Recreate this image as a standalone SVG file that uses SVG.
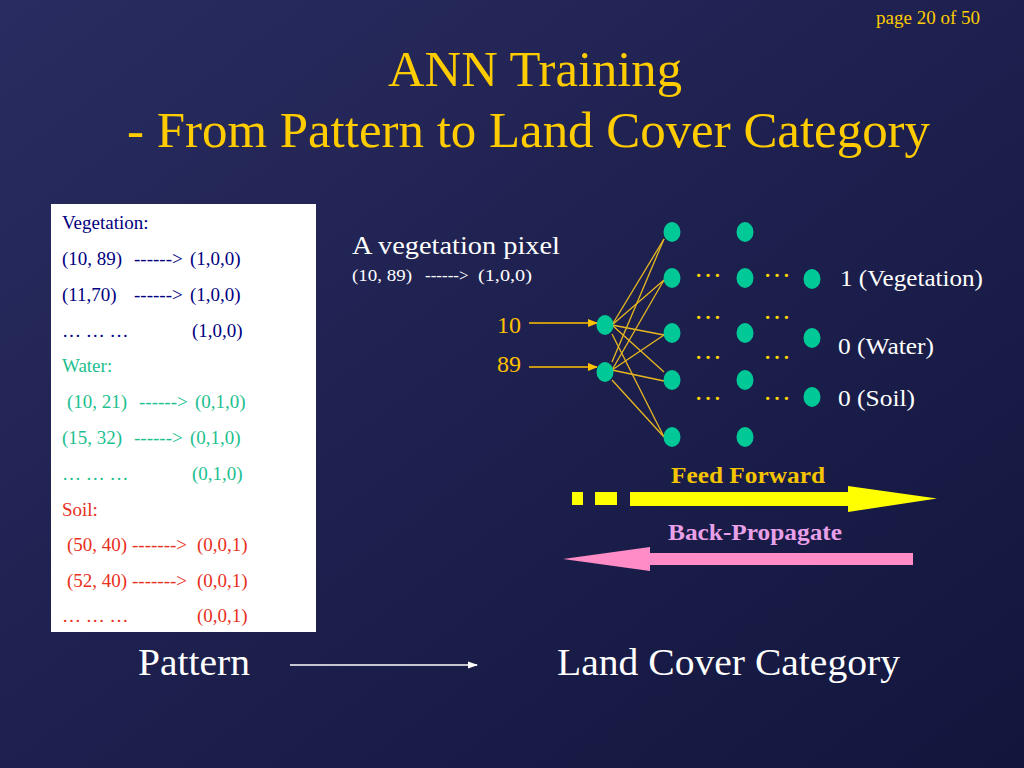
<svg xmlns="http://www.w3.org/2000/svg" width="1024" height="768" viewBox="0 0 1024 768">
<defs>
<linearGradient id="bg" x1="0" y1="0" x2="1" y2="1">
<stop offset="0" stop-color="#292C60"/>
<stop offset="1" stop-color="#12153C"/>
</linearGradient>
<marker id="ah" markerWidth="10" markerHeight="8" refX="9" refY="4" orient="auto" markerUnits="userSpaceOnUse">
<path d="M0,0 L10,4 L0,8 Z" fill="#FFC000"/>
</marker>
<marker id="ahw" markerWidth="10" markerHeight="8" refX="9" refY="4" orient="auto" markerUnits="userSpaceOnUse">
<path d="M0,0.5 L10,4 L0,7.5 Z" fill="#FFFFFF"/>
</marker>
</defs>
<style>
text{font-family:"Liberation Serif","Times New Roman",serif}
.title{fill:#FFCC00;font-size:50px}
.box{font-size:19px}
.veg{fill:#000080}
.wat{fill:#1CBF8E}
.soil{fill:#E8301C}
.node{fill:#00C896}
.edge{stroke:#E8B820;stroke-width:1.3}
.dots{fill:#FFD700;font-size:28px}
.wt{fill:#FFFFFF}
.out{fill:#FFFFFF;font-size:23px}
</style>
<rect width="1024" height="768" fill="url(#bg)"/>

<text x="980" y="24" text-anchor="end" style="fill:#FFCC00;font-size:19px">page 20 of 50</text>
<text class="title" x="388" y="86" textLength="294" lengthAdjust="spacingAndGlyphs">ANN Training</text>
<text class="title" x="127" y="147" textLength="803" lengthAdjust="spacingAndGlyphs">- From Pattern to Land Cover Category</text>

<g id="table">
<rect x="51" y="204" width="265" height="428" fill="#FFFFFF"/>
<g class="box">
<text class="veg" x="62" y="229">Vegetation:</text>
<text class="veg" y="265"><tspan x="62">(10, 89)</tspan><tspan x="134">------&gt;</tspan><tspan x="190">(1,0,0)</tspan></text>
<text class="veg" y="301"><tspan x="62">(11,70)</tspan><tspan x="134">------&gt;</tspan><tspan x="190">(1,0,0)</tspan></text>
<text class="veg" y="337"><tspan x="62">… … …</tspan><tspan x="192">(1,0,0)</tspan></text>
<text class="wat" x="62" y="372">Water:</text>
<text class="wat" y="408"><tspan x="67">(10, 21)</tspan><tspan x="139">------&gt;</tspan><tspan x="195">(0,1,0)</tspan></text>
<text class="wat" y="444"><tspan x="62">(15, 32)</tspan><tspan x="134">------&gt;</tspan><tspan x="190">(0,1,0)</tspan></text>
<text class="wat" y="480"><tspan x="62">… … …</tspan><tspan x="192">(0,1,0)</tspan></text>
<text class="soil" x="62" y="516">Soil:</text>
<text class="soil" y="551"><tspan x="67">(50, 40)</tspan><tspan x="132">-------&gt;</tspan><tspan x="197">(0,0,1)</tspan></text>
<text class="soil" y="587"><tspan x="67">(52, 40)</tspan><tspan x="132">-------&gt;</tspan><tspan x="197">(0,0,1)</tspan></text>
<text class="soil" y="622"><tspan x="62">… … …</tspan><tspan x="197">(0,0,1)</tspan></text>
</g>
</g>

<g id="pixel-label">
<text class="wt" x="352" y="254" style="font-size:26px" textLength="208" lengthAdjust="spacingAndGlyphs">A vegetation pixel</text>
<text class="wt" y="281" style="font-size:17px"><tspan x="352" textLength="60" lengthAdjust="spacingAndGlyphs">(10, 89)</tspan><tspan x="425">------&gt;</tspan><tspan x="478" textLength="54" lengthAdjust="spacingAndGlyphs">(1,0,0)</tspan></text>
</g>

<g id="inputs">
<text x="497" y="333" style="fill:#FFC000;font-size:24px">10</text>
<text x="497" y="372" style="fill:#FFC000;font-size:24px">89</text>
</g>

<g id="connectors">
<line x1="529" y1="323" x2="597" y2="323" stroke="#FFC000" stroke-width="1.6" marker-end="url(#ah)"/>
<line x1="529" y1="367" x2="597" y2="367" stroke="#FFC000" stroke-width="1.6" marker-end="url(#ah)"/>
<g class="edge">
<line x1="612" y1="325" x2="664" y2="239"/>
<line x1="612" y1="325" x2="664" y2="280"/>
<line x1="612" y1="325" x2="664" y2="335"/>
<line x1="612" y1="325" x2="664" y2="372"/>
<line x1="612" y1="334" x2="664" y2="437"/>
<line x1="612" y1="362" x2="664" y2="239"/>
<line x1="612" y1="370" x2="664" y2="280"/>
<line x1="612" y1="370" x2="664" y2="335"/>
<line x1="612" y1="370" x2="664" y2="381"/>
<line x1="612" y1="380" x2="664" y2="437"/>
</g>
<line x1="290" y1="665" x2="477" y2="665" stroke="#FFFFFF" stroke-width="1.3" marker-end="url(#ahw)"/>
</g>

<g id="input-layer">
<ellipse class="node" cx="605" cy="325" rx="8.5" ry="10"/>
<ellipse class="node" cx="605" cy="372" rx="8.5" ry="10"/>
</g>
<g id="hidden-layer-1">
<ellipse class="node" cx="672" cy="232" rx="8.5" ry="10"/>
<ellipse class="node" cx="672" cy="278" rx="8.5" ry="10"/>
<ellipse class="node" cx="672" cy="333" rx="8.5" ry="10"/>
<ellipse class="node" cx="672" cy="380" rx="8.5" ry="10"/>
<ellipse class="node" cx="672" cy="437" rx="8.5" ry="10"/>
</g>
<g id="hidden-layer-2">
<ellipse class="node" cx="745" cy="232" rx="8.5" ry="10"/>
<ellipse class="node" cx="745" cy="278" rx="8.5" ry="10"/>
<ellipse class="node" cx="745" cy="333" rx="8.5" ry="10"/>
<ellipse class="node" cx="745" cy="380" rx="8.5" ry="10"/>
<ellipse class="node" cx="745" cy="437" rx="8.5" ry="10"/>
</g>
<g id="output-layer">
<ellipse class="node" cx="812" cy="279" rx="8.5" ry="10"/>
<ellipse class="node" cx="812" cy="338" rx="8.5" ry="10"/>
<ellipse class="node" cx="812" cy="397" rx="8.5" ry="10"/>
</g>
<g id="ellipses">
<text class="dots" x="694" y="277">…</text>
<text class="dots" x="763" y="277">…</text>
<text class="dots" x="694" y="319">…</text>
<text class="dots" x="763" y="319">…</text>
<text class="dots" x="694" y="359">…</text>
<text class="dots" x="763" y="359">…</text>
<text class="dots" x="694" y="400">…</text>
<text class="dots" x="763" y="400">…</text>
</g>
<g id="output-labels">
<text class="out" x="840" y="286" textLength="143" lengthAdjust="spacingAndGlyphs">1 (Vegetation)</text>
<text class="out" x="838" y="354" textLength="96" lengthAdjust="spacingAndGlyphs">0 (Water)</text>
<text class="out" x="838" y="406" textLength="77" lengthAdjust="spacingAndGlyphs">0 (Soil)</text>
</g>

<g id="feed-forward">
<text x="671" y="483" style="fill:#F5C400;font-size:23px;font-weight:bold" textLength="154" lengthAdjust="spacingAndGlyphs">Feed Forward</text>
<rect x="572" y="492" width="11" height="13" fill="#FFFF00"/>
<rect x="595" y="492" width="22" height="13" fill="#FFFF00"/>
<path d="M630,492 L848,492 L848,486 L937,498.5 L848,512 L848,506 L630,506 Z" fill="#FFFF00"/>
</g>
<g id="back-propagate">
<text x="668" y="540" style="fill:#E8A0E8;font-size:23px;font-weight:bold" textLength="174" lengthAdjust="spacingAndGlyphs">Back-Propagate</text>
<path d="M913,553 L650,553 L650,547 L563,559 L650,571 L650,565 L913,565 Z" fill="#FF8CC6"/>
</g>

<g id="bottom">
<text class="wt" x="138" y="675" style="font-size:38px" textLength="112" lengthAdjust="spacingAndGlyphs">Pattern</text>
<text class="wt" x="557" y="675" style="font-size:38px" textLength="343" lengthAdjust="spacingAndGlyphs">Land Cover Category</text>
</g>
</svg>
